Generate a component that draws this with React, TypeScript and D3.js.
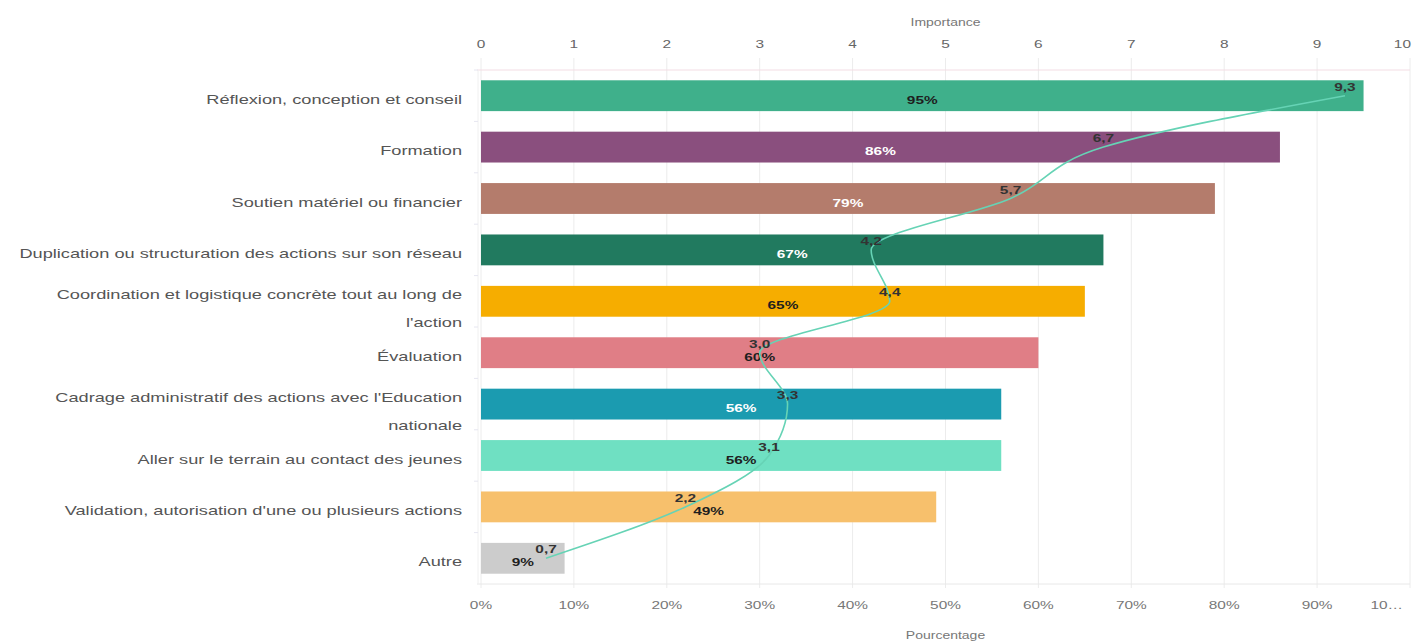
import { useEffect, useRef } from 'react';
import * as d3 from 'd3';

const categories = [
  'Réflexion, conception et conseil',
  'Formation',
  'Soutien matériel ou financier',
  'Duplication ou structuration des actions sur son réseau',
  "Coordination et logistique concrète tout au long de l'action",
  'Évaluation',
  "Cadrage administratif des actions avec l'Education nationale",
  'Aller sur le terrain au contact des jeunes',
  "Validation, autorisation d'une ou plusieurs actions",
  'Autre',
];

// share of respondents (%)
const percentages = [95, 86, 79, 67, 65, 60, 56, 56, 49, 9];
// importance score (0-10)
const importance = [9.3, 6.7, 5.7, 4.2, 4.4, 3.0, 3.3, 3.1, 2.2, 0.7];

const barColors = [
  '#3fb08b', '#8a4f7e', '#b47c6c', '#217a5f', '#f6ad00',
  '#e07e86', '#1b9bb0', '#6fe0c2', '#f7c06c', '#cccccc',
];
const barLabelColors = [
  '#1e1e1e', '#ffffff', '#ffffff', '#ffffff', '#1e1e1e',
  '#1e1e1e', '#ffffff', '#1e1e1e', '#1e1e1e', '#1e1e1e',
];

const importanceTicks = [0, 1, 2, 3, 4, 5, 6, 7, 8, 9, 10];
const percentTicks = [0, 10, 20, 30, 40, 50, 60, 70, 80, 90, 100];
const percentTickLabels = ['0%', '10%', '20%', '30%', '40%', '50%', '60%', '70%', '80%', '90%', '10…'];

const W = 1413;
const H = 644;
const SX = 1.4; // text is drawn horizontally stretched like the source
const FONT = "'Liberation Sans', Arial, sans-serif";

export default function App() {
  const svgRef = useRef<SVGSVGElement>(null);

  useEffect(() => {
    if (!svgRef.current) return;
    const svg = d3.select(svgRef.current);
    svg.selectAll('*').remove();

    const left = 481;
    const right = 1410;
    const top = 70;
    const bottom = 584;

    const x = d3.scaleLinear().domain([0, 100]).range([left, right]);
    const xImp = d3.scaleLinear().domain([0, 10]).range([left, right]);
    const y = d3
      .scaleBand<string>()
      .domain(categories)
      .range([top, bottom])
      .paddingInner(0.4)
      .paddingOuter(0.2);
    const cy = (c: string) => (y(c) ?? 0) + y.bandwidth() / 2;

    const stretched = (
      g: d3.Selection<SVGGElement, unknown, null, undefined>,
      tx: number,
      ty: number,
      txt: string,
      size: number,
      color: string,
      anchor = 'middle',
      weight = 'normal'
    ) =>
      g
        .append('text')
        .attr('transform', `translate(${tx},${ty}) scale(${SX},1)`)
        .attr('text-anchor', anchor)
        .attr('font-size', size)
        .attr('font-family', FONT)
        .attr('font-weight', weight)
        .attr('fill', color)
        .text(txt);

    const root = svg.append('g');

    // grid
    const grid = root.append('g');
    grid
      .selectAll('line.v')
      .data(percentTicks)
      .join('line')
      .attr('x1', (d) => x(d))
      .attr('x2', (d) => x(d))
      .attr('y1', top - 12)
      .attr('y2', bottom + 4)
      .attr('stroke', '#ececec')
      .attr('stroke-width', 1);
    grid
      .append('line')
      .attr('x1', left - 4)
      .attr('x2', right)
      .attr('y1', top)
      .attr('y2', top)
      .attr('stroke', '#f3dde4');
    grid
      .append('line')
      .attr('x1', left - 4)
      .attr('x2', right)
      .attr('y1', bottom)
      .attr('y2', bottom)
      .attr('stroke', '#e8e8e8');
    grid
      .append('line')
      .attr('x1', left - 3)
      .attr('x2', left - 3)
      .attr('y1', top)
      .attr('y2', bottom)
      .attr('stroke', '#f0f0f0');

    // top axis
    const topAxis = root.append('g');
    importanceTicks.forEach((t, i) => {
      const last = i === importanceTicks.length - 1;
      stretched(topAxis, last ? xImp(t) + 1 : xImp(t), 48, String(t), 11, '#666', last ? 'end' : 'middle');
    });
    stretched(topAxis, xImp(5), 26, 'Importance', 10, '#777');

    // bottom axis
    const botAxis = root.append('g');
    percentTicks.forEach((t, i) => {
      const last = i === percentTicks.length - 1;
      stretched(botAxis, last ? x(t) - 7 : x(t), 609, percentTickLabels[i], 11, '#777', last ? 'end' : 'middle');
    });
    stretched(botAxis, x(50), 639, 'Pourcentage', 10, '#777');

    // bars
    root
      .append('g')
      .selectAll('rect')
      .data(categories)
      .join('rect')
      .attr('x', x(0))
      .attr('y', (c) => y(c) ?? 0)
      .attr('width', (_, i) => x(percentages[i]) - x(0))
      .attr('height', y.bandwidth())
      .attr('fill', (_, i) => barColors[i]);

    // category labels with wrapping
    const labels = root.append('g');
    const maxW = 455;
    categories.forEach((c) => {
      const probe = labels
        .append('text')
        .attr('font-size', 13)
        .attr('font-family', FONT)
        .attr('visibility', 'hidden');
      const words = c.split(' ');
      const lines: string[] = [];
      let cur = '';
      for (const w of words) {
        const test = cur ? cur + ' ' + w : w;
        probe.text(test);
        const len = (probe.node() as SVGTextElement).getComputedTextLength() * SX;
        if (len > maxW && cur) {
          lines.push(cur);
          cur = w;
        } else cur = test;
      }
      lines.push(cur);
      probe.remove();
      const lh = 28;
      const y0 = cy(c) + 8 - ((lines.length - 1) * lh) / 2 + (lines.length > 1 ? 4 : 0);
      lines.forEach((ln, k) => {
        stretched(labels, 462, y0 + k * lh, ln, 13, '#555', 'end');
      });
    });

    // small y ticks
    root
      .append('g')
      .selectAll('line')
      .data(categories)
      .join('line')
      .attr('x1', left - 7)
      .attr('x2', left - 3)
      .attr('y1', (c) => (y(c) ?? 0) - (y.step() - y.bandwidth()) / 2)
      .attr('y2', (c) => (y(c) ?? 0) - (y.step() - y.bandwidth()) / 2)
      .attr('stroke', '#e6e6f0');

    // bar value labels
    const barLbl = root.append('g');
    categories.forEach((c, i) => {
      stretched(
        barLbl,
        x(percentages[i] / 2),
        cy(c) + 8,
        `${percentages[i]}%`,
        11,
        barLabelColors[i],
        'middle',
        'bold'
      );
    });

    // importance line
    const pts = categories.map((c, i) => [xImp(importance[i]), cy(c)] as [number, number]);
    const line = d3.line().curve(d3.curveMonotoneY);
    root
      .append('path')
      .attr('d', line(pts))
      .attr('fill', 'none')
      .attr('stroke', '#66d3b5')
      .attr('stroke-width', 1.6);

    const fmt = d3.format('.1f');
    const impLbl = root.append('g');
    pts.forEach((p, i) => {
      stretched(impLbl, p[0], p[1] - 5, fmt(importance[i]).replace('.', ','), 11, '#333', 'middle', 'bold');
    });
  }, []);

  return (
    <svg
      ref={svgRef}
      width={W}
      height={H}
      viewBox={`0 0 ${W} ${H}`}
      style={{ position: 'absolute', left: 0, top: 0, background: '#fff' }}
    />
  );
}
